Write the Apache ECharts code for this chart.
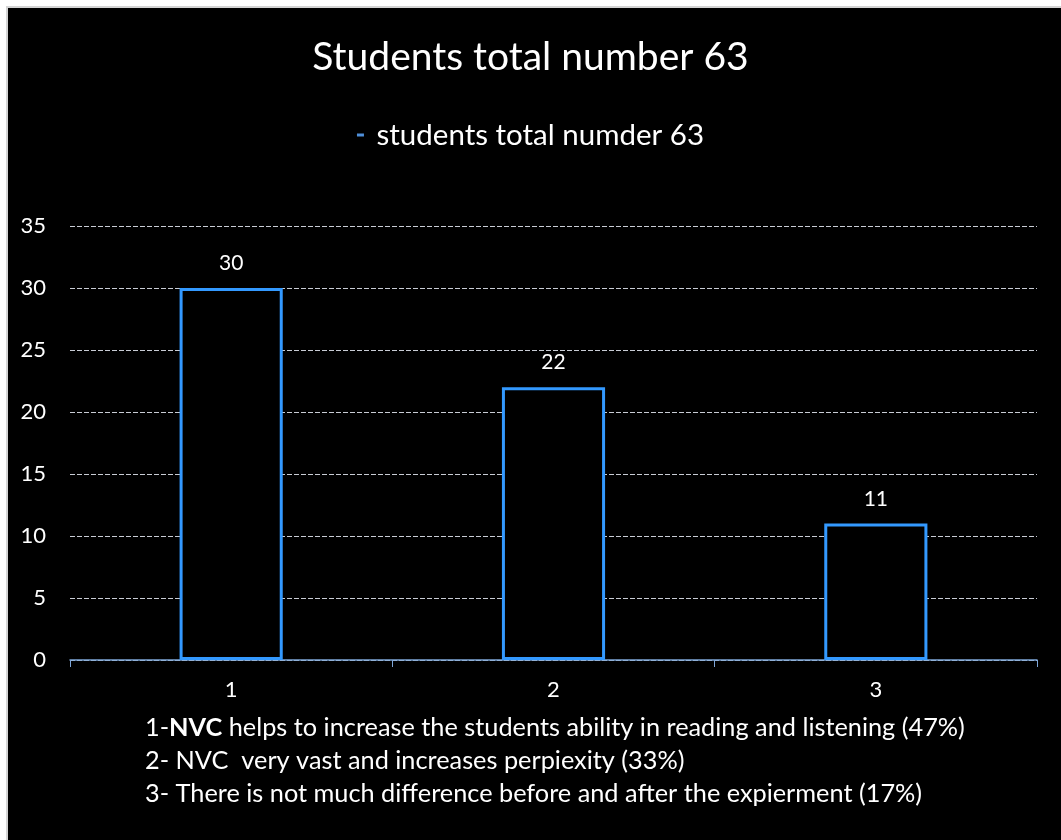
<!DOCTYPE html>
<html><head><meta charset="utf-8">
<script src="https://cdn.jsdelivr.net/npm/echarts@6/dist/echarts.min.js"></script>
<style>
html,body{margin:0;padding:0;background:#fff;}
#bg{position:absolute;left:6px;top:6px;width:1100px;height:900px;background:#000;border-left:2px solid #d4d4d4;border-top:2px solid #d4d4d4;}
#c{position:absolute;left:0;top:0;width:1061px;height:840px;}
</style></head>
<body><div id="bg"></div><div id="c"></div>
<script>
const categories = ['1','2','3'];
const values = [30, 22, 11];
const seriesName = 'students total numder 63';
const titleText = 'Students total number 63';
const yTicks = {min:0, max:35, interval:5};
const notes = [
  [{t:'1-', b:false},{t:'NVC', b:true},{t:' helps to increase the students ability in reading and listening (47%)', b:false}],
  [{t:'2- NVC  very vast and increases perpiexity (33%)', b:false}],
  [{t:'3- There is not much difference before and after the expierment (17%)', b:false}]
];
const FONT = 'Lato';
const chart = echarts.init(document.getElementById('c'));
const graphics = notes.map((line, i) => ({
  type:'text', left:145, top:715 + i*33, silent:true,
  style:{
    text: line.map(s => s.b ? '{b|' + s.t + '}' : '{n|' + s.t + '}').join(''),
    rich:{
      n:{fill:'#fff', fontSize:25.3, fontFamily:FONT},
      b:{fill:'#fff', fontSize:25.3, fontFamily:FONT, fontWeight:'bold'}
    }
  }
}));
chart.setOption({
  backgroundColor:'transparent',
  animation:false,
  title:{text:titleText, left:'center', top:33, textStyle:{color:'#fff', fontSize:39, fontWeight:'normal', fontFamily:FONT}},
  legend:{top:115, left:'center', icon:'rect', itemWidth:7, itemHeight:3, itemGap:10,
    formatter: n => ' ' + n,
    textStyle:{color:'#fff', fontSize:29.5, fontFamily:FONT},
    data:[{name:seriesName, itemStyle:{color:'#4f8fd9', borderWidth:0}}]},
  grid:{left:70, right:24, top:226, bottom:180, containLabel:false},
  xAxis:{type:'category', data:categories,
    axisLine:{lineStyle:{color:'#7ea6d8', width:1.5}},
    axisTick:{show:true, length:7, lineStyle:{color:'#7ea6d8'}},
    axisLabel:{color:'#fff', fontSize:22, fontFamily:FONT, margin:19}},
  yAxis:{type:'value', min:yTicks.min, max:yTicks.max, interval:yTicks.interval,
    axisLine:{show:false}, axisTick:{show:false},
    axisLabel:{color:'#fff', fontSize:22, fontFamily:FONT, margin:24},
    splitLine:{lineStyle:{color:'#c8ccd4', type:[5,2], width:1}}},
  series:[{name:seriesName, type:'bar', data:values, barWidth:'32%',
    itemStyle:{color:'#000', borderColor:'#3399ff', borderWidth:3},
    label:{show:true, position:'top', distance:14, color:'#fff', fontSize:21, fontFamily:FONT}}],
  graphic:graphics
});
</script></body></html>
